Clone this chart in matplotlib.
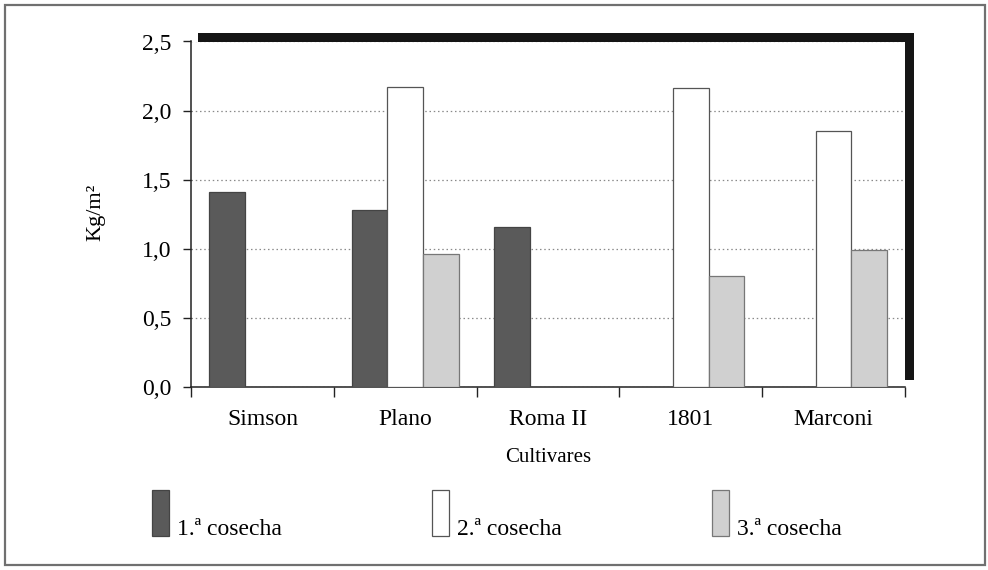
import numpy as np
import matplotlib
matplotlib.use("Agg")
import matplotlib.pyplot as plt
from matplotlib.patches import Rectangle
from matplotlib.ticker import FixedLocator, NullFormatter, FixedFormatter

plt.rcParams["font.family"] = ["Liberation Serif", "DejaVu Serif"]

cultivars = ["Simson", "Plano", "Roma II", "1801", "Marconi"]
cosecha1 = [1.41, 1.28, 1.16, 0.0, 0.0]
cosecha2 = [0.0, 2.17, 0.0, 2.16, 1.85]
cosecha3 = [0.0, 0.96, 0.0, 0.80, 0.99]
series_labels = ["1.ª cosecha", "2.ª cosecha", "3.ª cosecha"]
yticks = [0.0, 0.5, 1.0, 1.5, 2.0, 2.5]

FACE = ["#5a5a5a", "#ffffff", "#d0d0d0"]
EDGE = ["#444444", "#555555", "#777777"]

W, H = 988, 570
fig = plt.figure(figsize=(W / 100, H / 100), dpi=100)
fig.patch.set_facecolor("white")


def px(x0, y0, x1, y1):
    # pixel box (top-left origin) -> figure fraction rect
    return [x0 / W, 1 - y1 / H, (x1 - x0) / W, (y1 - y0) / H]


ax = fig.add_axes(px(191, 41.5, 905, 386.7))
ax.set_facecolor("white")

# black drop shadow behind the plot area
sb = px(198, 32.5, 913.5, 380)
fig.add_artist(Rectangle((sb[0], sb[1]), sb[2], sb[3], transform=fig.transFigure,
                         facecolor="#151515", edgecolor="none", zorder=-5))
ax.set_zorder(1)

# outer frame
fb = px(5, 4.5, 985, 565)
fig.add_artist(Rectangle((fb[0], fb[1]), fb[2], fb[3], transform=fig.transFigure,
                         fill=False, edgecolor="#707070", linewidth=1.6, zorder=10))

x = np.arange(len(cultivars))
width = 0.25
for i, vals in enumerate([cosecha1, cosecha2, cosecha3]):
    vals = np.array(vals)
    keep = vals > 0
    ax.bar(x[keep] + (i - 1) * width, vals[keep], width=width, color=FACE[i],
           edgecolor=EDGE[i], linewidth=0.9, zorder=3)

ax.set_xlim(-0.5, len(cultivars) - 0.5)
ax.set_ylim(0, 2.5)
ax.set_yticks(yticks)
ax.set_yticklabels([f"{v:.1f}".replace(".", ",") for v in yticks])
ax.yaxis.grid(True, color="#8a8a8a", linestyle=(0, (1.2, 2.2)), linewidth=0.9, zorder=0)

ax.xaxis.set_major_locator(FixedLocator(np.arange(len(cultivars) + 1) - 0.5))
ax.xaxis.set_major_formatter(NullFormatter())
ax.xaxis.set_minor_locator(FixedLocator(x))
ax.xaxis.set_minor_formatter(FixedFormatter(cultivars))
ax.tick_params(axis="x", which="major", length=7, width=1.0, direction="out", color="#222222")
ax.tick_params(axis="x", which="minor", length=0, pad=16, labelsize=17)
ax.tick_params(axis="y", length=6, width=1.0, direction="out", pad=8, labelsize=17, color="#222222")

for s in ("top", "right"):
    ax.spines[s].set_visible(False)
for s in ("left", "bottom"):
    ax.spines[s].set_color("#222222")
    ax.spines[s].set_linewidth(1.1)

fig.text(548 / W, 1 - 457 / H, "Cultivares", ha="center", va="center", fontsize=15)
fig.text(96 / W, 1 - 212 / H, "Kg/m²", ha="center", va="center", rotation=90,
         fontsize=16)

# legend
leg_x = [152, 432, 712]
for i, lab in enumerate(series_labels):
    r = px(leg_x[i], 490, leg_x[i] + 17, 536)
    fig.add_artist(Rectangle((r[0], r[1]), r[2], r[3], transform=fig.transFigure,
                             facecolor=FACE[i], edgecolor=EDGE[i], linewidth=0.9))
    fig.text((leg_x[i] + 25) / W, 1 - 535 / H, lab, ha="left", va="baseline", fontsize=17)

fig.savefig("out.png", dpi=100, facecolor="white")
